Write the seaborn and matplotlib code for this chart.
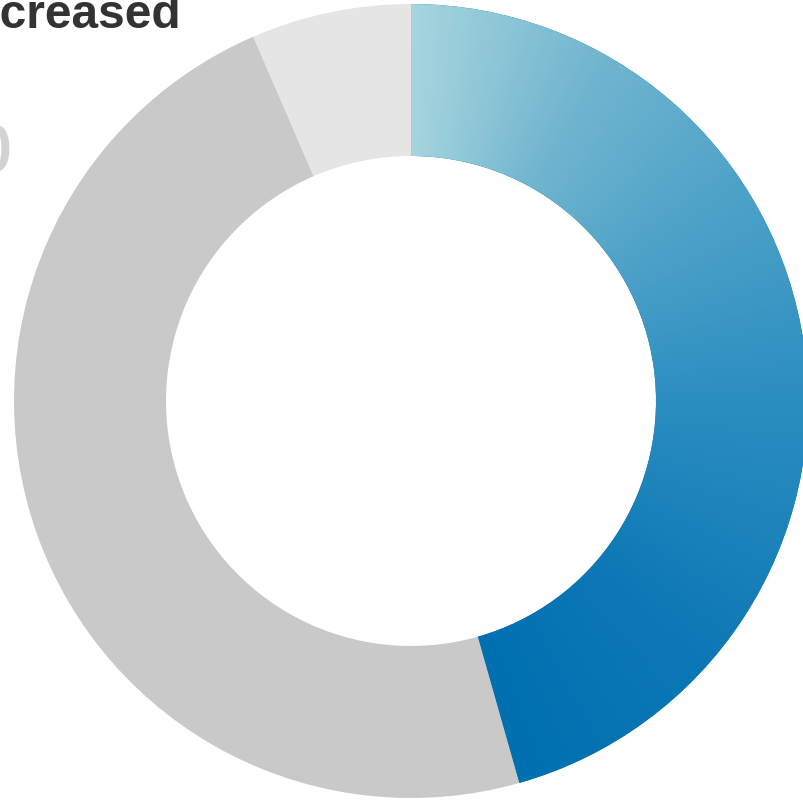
import numpy as np
import matplotlib
matplotlib.use("Agg")
import matplotlib.pyplot as plt
from matplotlib.colors import LinearSegmentedColormap
import seaborn as sns

# Share of responses per answer (percent)
labels = ["Increased", "Stayed the same", "Decreased"]
shares = [45.6, 47.9, 6.5]
colors = ["#0070b0", "#c9c9c9", "#e5e5e5"]

# Blue gradient stops along the first segment (start -> end of arc)
grad_pos = [0.0, 0.17, 0.35, 0.55, 0.8, 1.0]
grad_col = ["#a6d5de", "#72b6cf", "#4da2c8", "#2b8ec0", "#0d78b6", "#0070b0"]

sns.set_theme(style="white")
plt.rcParams["font.family"] = ["Liberation Sans", "DejaVu Sans"]

W, H, DPI = 804, 802, 100
fig = plt.figure(figsize=(W / DPI, H / DPI), dpi=DPI)
ax = fig.add_axes([0, 0, 1, 1])

cx, cy, R = 411, 401, 397  # centre and outer radius in pixels
ring = 152 / R

wedges, _ = ax.pie(shares, colors=colors, startangle=90, counterclock=False,
                   radius=1.0, wedgeprops=dict(width=ring, linewidth=0, antialiased=True))

# Fill the first wedge with an angular gradient
cmap = LinearSegmentedColormap.from_list("blue_ramp", list(zip(grad_pos, grad_col)))
n = 900
xs = np.linspace(-1, 1, n)
X, Y = np.meshgrid(xs, xs)
theta = np.degrees(np.arctan2(X, Y)) % 360
span = shares[0] / sum(shares) * 360
t = np.clip(theta / span, 0, 1)
img = ax.imshow(t, cmap=cmap, vmin=0, vmax=1, extent=(-1, 1, -1, 1),
                origin="lower", interpolation="bilinear", zorder=wedges[0].get_zorder() + 0.1)
img.set_clip_path(wedges[0])

ax.set_xlim(-cx / R, (W - cx) / R)
ax.set_ylim(-(H - cy) / R, cy / R)
ax.set_aspect("auto")
ax.axis("off")

# Title fragment and large percentage at the left edge
fig.text(181 / W, 1 - 28 / H, "Increased", ha="right", va="baseline",
         fontsize=34.5, fontweight="bold", color="#333333")
fig.text(14 / W, 1 - 172 / H, "46%", ha="right", va="baseline",
         fontsize=80, color="#d2d2d2")

fig.savefig("out.png", dpi=DPI, facecolor="white")
